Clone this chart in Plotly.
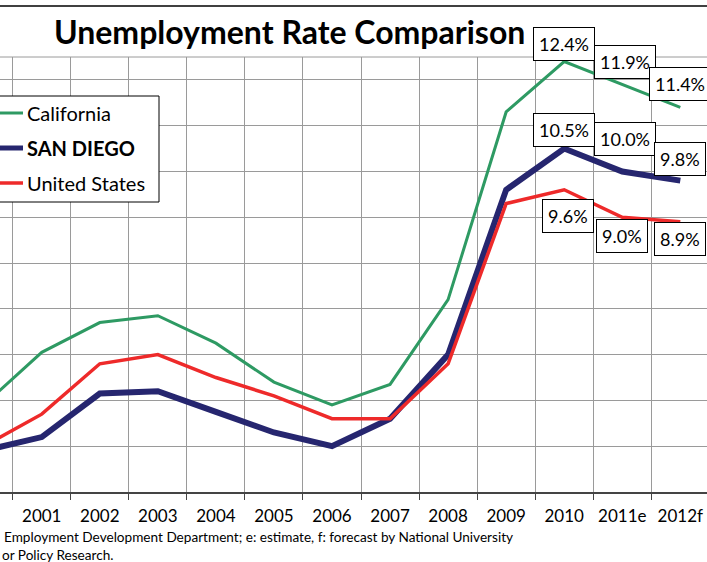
import plotly.graph_objects as go

# ---------------- data ----------------
years = ["2000", "2001", "2002", "2003", "2004", "2005", "2006",
         "2007", "2008", "2009", "2010", "2011e", "2012f"]
california = [4.9, 6.05, 6.7, 6.85, 6.25, 5.4, 4.9, 5.35, 7.2, 11.3, 12.4, 11.9, 11.4]
san_diego = [3.9, 4.2, 5.15, 5.2, 4.75, 4.3, 4.0, 4.6, 6.0, 9.6, 10.5, 10.0, 9.8]
united_states = [4.0, 4.7, 5.8, 6.0, 5.5, 5.1, 4.6, 4.6, 5.8, 9.3, 9.6, 9.0, 8.9]
series_names = ["California", "SAN DIEGO", "United States"]
title_text = "Unemployment Rate Comparison"
footnote_lines = ["Employment Development Department; e: estimate, f: forecast by National University",
                  "or Policy Research."]

# ---------------- style ----------------
W, H = 707, 562
ML, MR, MT, MB = 0, 0, 57, 70
FONT = "Lato"
colors = ["#2E9A63", "#26266F", "#EE2A2A"]
widths = [3, 6, 3.5]

# label offsets for last three points of each series (xshift, yshift)
label_offsets = [
    [(0, 18), (2.5, 22), (0, 23)],
    [(0, 19), (2.5, 32), (0, 22)],
    [(3.5, -26), (0, -19), (0, -17)],
]

plot_w = W - ML - MR
plot_h = H - MT - MB


def px(x):
    return (x - ML) / plot_w


def py(y):
    return (H - MB - y) / plot_h


fig = go.Figure()
all_series = [california, san_diego, united_states]
for name, vals, c, w in zip(series_names, all_series, colors, widths):
    fig.add_trace(go.Scatter(x=years, y=vals, mode="lines", name=name,
                             line=dict(color=c, width=w), showlegend=False,
                             hoverinfo="x+y+name"))

annotations = []
# data labels (x given as category index)
for vals, offs in zip(all_series, label_offsets):
    for i, (xs, ys) in zip(range(len(years) - 3, len(years)), offs):
        annotations.append(dict(
            x=i, y=vals[i], xref="x", yref="y",
            text=f"{vals[i]:.1f}%", showarrow=False,
            xshift=xs, yshift=ys,
            font=dict(family=FONT, size=18, color="black"),
            bgcolor="white", bordercolor="black", borderwidth=1, borderpad=5,
        ))

# title
annotations.append(dict(
    x=px(289), y=py(31), xref="paper", yref="paper", text=f"<b>{title_text}</b>",
    showarrow=False, xanchor="center", yanchor="middle",
    font=dict(family=FONT, size=32, color="black")))

# footnote
annotations.append(dict(
    x=px(2), y=py(537), xref="paper", yref="paper", text=footnote_lines[0],
    showarrow=False, xanchor="left", yanchor="middle",
    font=dict(family=FONT, size=13.6, color="black")))
annotations.append(dict(
    x=px(0), y=py(555), xref="paper", yref="paper", text=footnote_lines[1],
    showarrow=False, xanchor="left", yanchor="middle",
    font=dict(family=FONT, size=13.6, color="black")))

shapes = []
# outer chart border (top)
shapes.append(dict(type="line", xref="paper", yref="paper",
                   x0=px(-5), x1=px(W + 5), y0=py(6), y1=py(6),
                   line=dict(color="black", width=1.5)))
# plot area top border
shapes.append(dict(type="line", xref="paper", yref="paper",
                   x0=0, x1=1, y0=1, y1=1, line=dict(color="#9A9A9A", width=1)))

# manual legend
leg_left, leg_right, leg_top, leg_bot = -5, 159, 96, 202
shapes.append(dict(type="rect", xref="paper", yref="paper",
                   x0=px(leg_left), x1=px(leg_right), y0=py(leg_bot), y1=py(leg_top),
                   fillcolor="white", line=dict(color="black", width=1), layer="above"))
legend_rows = [113, 148, 183]
for name, c, w, yy in zip(series_names, colors, widths, legend_rows):
    shapes.append(dict(type="line", xref="paper", yref="paper",
                       x0=px(-5), x1=px(23), y0=py(yy), y1=py(yy),
                       line=dict(color=c, width=min(w, 5)), layer="above"))
    label = f"<b>{name}</b>" if name == "SAN DIEGO" else name
    annotations.append(dict(
        x=px(25), y=py(yy), xref="paper", yref="paper", text=label,
        showarrow=False, xanchor="left", yanchor="middle",
        font=dict(family=FONT, size=20, color="black")))

fig.update_layout(
    width=W, height=H,
    margin=dict(l=ML, r=MR, t=MT, b=MB, pad=0),
    paper_bgcolor="white", plot_bgcolor="white",
    showlegend=False,
    annotations=annotations, shapes=shapes,
    xaxis=dict(type="category", categoryorder="array", categoryarray=years,
               range=[0.281, 12.46], tickson="boundaries",
               showgrid=True, gridcolor="#9A9A9A", gridwidth=1,
               ticks="outside", ticklen=6, tickcolor="#444", tickwidth=1,
               showline=True, linecolor="#444", linewidth=1.5,
               tickfont=dict(family=FONT, size=17, color="black"),
               ticklabelstandoff=8,
               fixedrange=True, zeroline=False),
    yaxis=dict(range=[3, 12.5], dtick=1, tick0=3,
               showgrid=True, gridcolor="#9A9A9A", gridwidth=1,
               showticklabels=False, ticks="", showline=False, zeroline=False,
               fixedrange=True),
)

fig.write_html("out.html", config={"displayModeBar": False},
               post_script="document.body.style.margin='0';")
